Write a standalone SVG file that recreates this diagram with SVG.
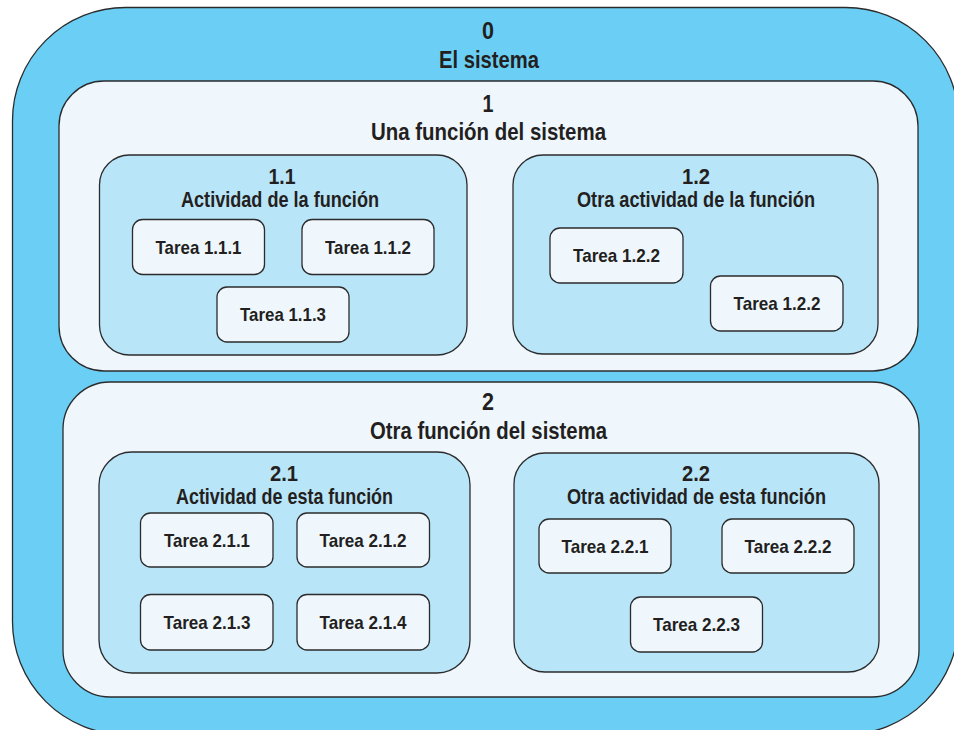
<svg xmlns="http://www.w3.org/2000/svg" width="954" height="730" viewBox="0 0 954 730">
<style>
  .box{stroke:#2b2b2b;stroke-width:1.3}
  .l0{fill:#6bcff5}
  .l1{fill:#eff7fd}
  .l2{fill:#b9e5f9}
  .task{fill:#eff7fd}
  text{font-family:"Liberation Sans Narrow","Liberation Sans",Arial,sans-serif;font-weight:bold;fill:#231f20;text-anchor:middle}
  .t0{font-size:24px}
  .t2{font-size:22px}
  .tt{font-size:19px}
</style>
<rect width="954" height="730" fill="#ffffff"/>
<g id="node-0">
  <rect class="box l0" x="12.5" y="7.5" width="946" height="727" rx="113" ry="113"/>
  <text class="t0" x="488" y="39" textLength="12" lengthAdjust="spacingAndGlyphs">0</text>
  <text class="t0" x="489" y="68" textLength="100" lengthAdjust="spacingAndGlyphs">El sistema</text>
</g>
<g id="node-1">
  <rect class="box l1" x="59" y="81" width="859" height="290" rx="45" ry="45"/>
  <text class="t0" x="488" y="112" textLength="11" lengthAdjust="spacingAndGlyphs">1</text>
  <text class="t0" x="488.5" y="140" textLength="235" lengthAdjust="spacingAndGlyphs">Una función del sistema</text>
</g>
<g id="node-1-1">
  <rect class="box l2" x="99.5" y="155" width="367.5" height="200" rx="30" ry="30"/>
  <text class="t2" x="282" y="184" textLength="27" lengthAdjust="spacingAndGlyphs">1.1</text>
  <text class="t2" x="280" y="207" textLength="198" lengthAdjust="spacingAndGlyphs">Actividad de la función</text>
</g>
<g id="task-1-1-1">
  <rect class="box task" x="132.5" y="219.5" width="132" height="55" rx="10"/>
  <text class="tt" x="198.5" y="254" textLength="86" lengthAdjust="spacingAndGlyphs">Tarea 1.1.1</text>
</g>
<g id="task-1-1-2">
  <rect class="box task" x="302" y="219.5" width="132" height="55" rx="10"/>
  <text class="tt" x="368" y="254" textLength="86" lengthAdjust="spacingAndGlyphs">Tarea 1.1.2</text>
</g>
<g id="task-1-1-3">
  <rect class="box task" x="217" y="287" width="132" height="55" rx="10"/>
  <text class="tt" x="283" y="321" textLength="86" lengthAdjust="spacingAndGlyphs">Tarea 1.1.3</text>
</g>
<g id="node-1-2">
  <rect class="box l2" x="513" y="155" width="365" height="199" rx="30" ry="30"/>
  <text class="t2" x="696" y="184" textLength="28" lengthAdjust="spacingAndGlyphs">1.2</text>
  <text class="t2" x="696" y="207" textLength="238" lengthAdjust="spacingAndGlyphs">Otra actividad de la función</text>
</g>
<g id="task-1-2-2a">
  <rect class="box task" x="550" y="228" width="133" height="55" rx="10"/>
  <text class="tt" x="616.5" y="262" textLength="87" lengthAdjust="spacingAndGlyphs">Tarea 1.2.2</text>
</g>
<g id="task-1-2-2b">
  <rect class="box task" x="710.5" y="276" width="132.5" height="55" rx="10"/>
  <text class="tt" x="777" y="310" textLength="87" lengthAdjust="spacingAndGlyphs">Tarea 1.2.2</text>
</g>
<g id="node-2">
  <rect class="box l1" x="63" y="382" width="856" height="315" rx="47" ry="47"/>
  <text class="t0" x="488" y="410" textLength="12" lengthAdjust="spacingAndGlyphs">2</text>
  <text class="t0" x="488.5" y="439" textLength="237" lengthAdjust="spacingAndGlyphs">Otra función del sistema</text>
</g>
<g id="node-2-1">
  <rect class="box l2" x="99" y="452" width="371" height="221" rx="33" ry="33"/>
  <text class="t2" x="284" y="481" textLength="28" lengthAdjust="spacingAndGlyphs">2.1</text>
  <text class="t2" x="284.5" y="504" textLength="217" lengthAdjust="spacingAndGlyphs">Actividad de esta función</text>
</g>
<g id="task-2-1-1">
  <rect class="box task" x="140.5" y="513" width="132.5" height="54" rx="10"/>
  <text class="tt" x="207" y="547" textLength="86" lengthAdjust="spacingAndGlyphs">Tarea 2.1.1</text>
</g>
<g id="task-2-1-2">
  <rect class="box task" x="297" y="513" width="132.5" height="54" rx="10"/>
  <text class="tt" x="363" y="547" textLength="87" lengthAdjust="spacingAndGlyphs">Tarea 2.1.2</text>
</g>
<g id="task-2-1-3">
  <rect class="box task" x="140.5" y="594.5" width="132.5" height="55.5" rx="10"/>
  <text class="tt" x="207" y="629" textLength="87" lengthAdjust="spacingAndGlyphs">Tarea 2.1.3</text>
</g>
<g id="task-2-1-4">
  <rect class="box task" x="297" y="594.5" width="132.5" height="55.5" rx="10"/>
  <text class="tt" x="363" y="629" textLength="87" lengthAdjust="spacingAndGlyphs">Tarea 2.1.4</text>
</g>
<g id="node-2-2">
  <rect class="box l2" x="514" y="453" width="365" height="219" rx="31" ry="31"/>
  <text class="t2" x="696" y="481" textLength="28" lengthAdjust="spacingAndGlyphs">2.2</text>
  <text class="t2" x="696.5" y="504" textLength="259" lengthAdjust="spacingAndGlyphs">Otra actividad de esta función</text>
</g>
<g id="task-2-2-1">
  <rect class="box task" x="539" y="519" width="132" height="54" rx="10"/>
  <text class="tt" x="605" y="553" textLength="87" lengthAdjust="spacingAndGlyphs">Tarea 2.2.1</text>
</g>
<g id="task-2-2-2">
  <rect class="box task" x="722" y="519" width="132" height="54" rx="10"/>
  <text class="tt" x="788" y="553" textLength="87" lengthAdjust="spacingAndGlyphs">Tarea 2.2.2</text>
</g>
<g id="task-2-2-3">
  <rect class="box task" x="630.5" y="597" width="132" height="55" rx="10"/>
  <text class="tt" x="696.5" y="631" textLength="87" lengthAdjust="spacingAndGlyphs">Tarea 2.2.3</text>
</g>
<g id="connectors"/>
</svg>
